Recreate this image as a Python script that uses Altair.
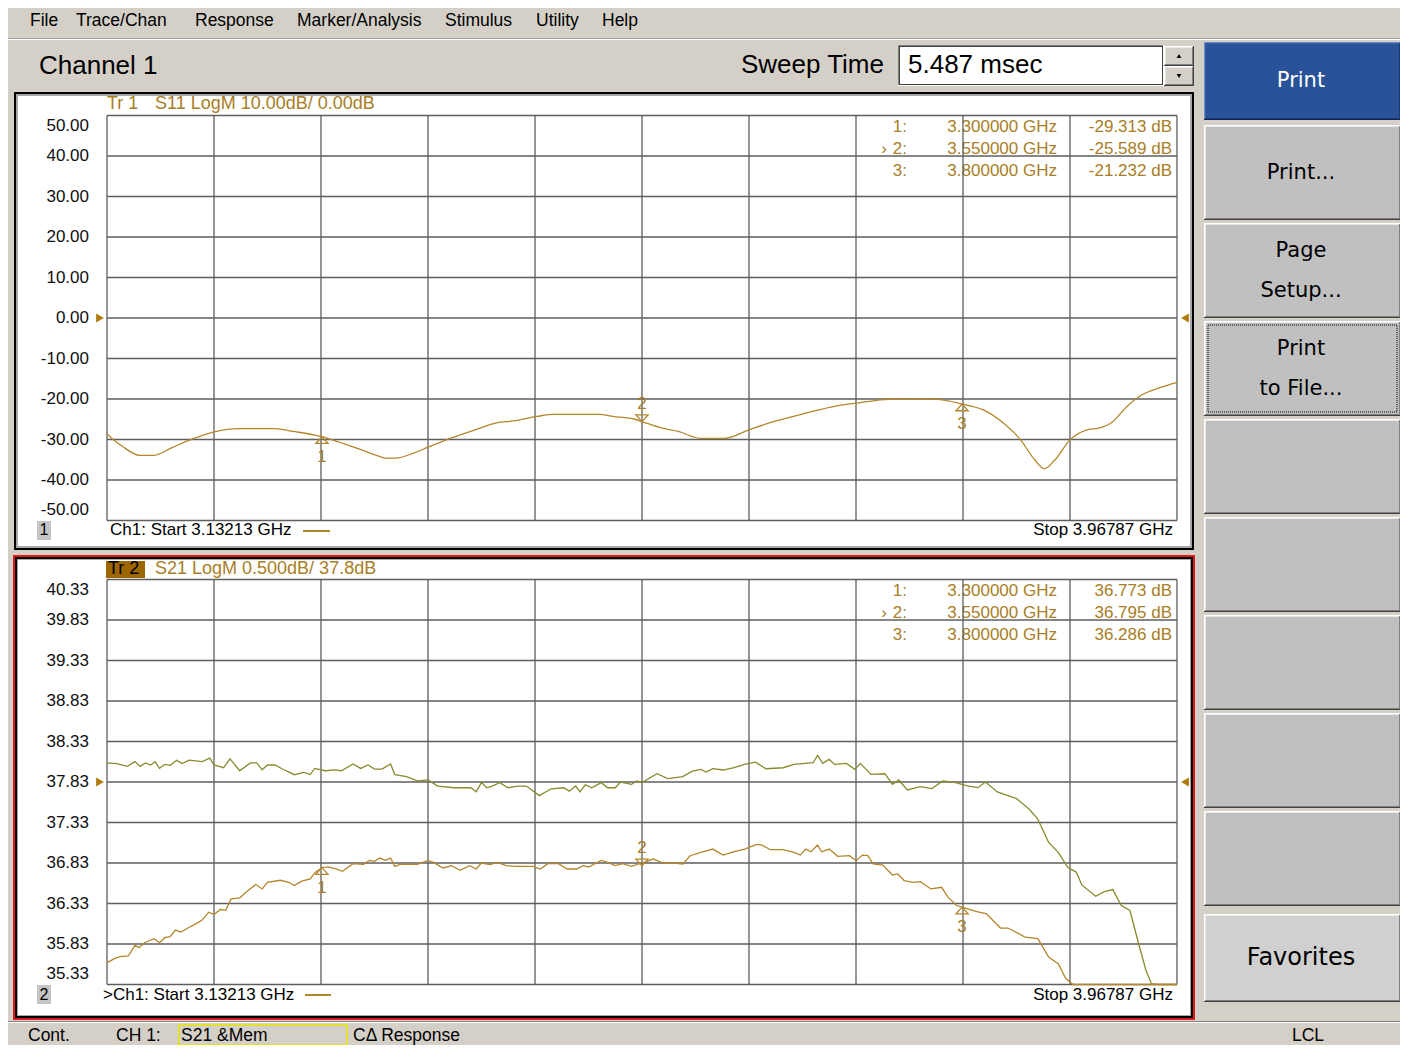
import altair as alt
import pandas as pd

# ---------------- chart values ----------------
f_start = 3.13213   # GHz
f_stop = 3.96787    # GHz

s11_freq = [3.1321, 3.1369, 3.1438, 3.1577, 3.1689, 3.1828, 3.1995, 3.2161, 3.2341, 3.2633,
            3.2776, 3.2943, 3.3000, 3.3110, 3.3277, 3.3444, 3.3494, 3.3578, 3.3720, 3.3829,
            3.3996, 3.4196, 3.4363, 3.4497, 3.4681, 3.4807, 3.5166, 3.5274, 3.5442, 3.5500,
            3.5659, 3.5784, 3.5952, 3.6144, 3.6336, 3.6528, 3.6779, 3.7021, 3.7205, 3.7364,
            3.7489, 3.7798, 3.8000, 3.8166, 3.8325, 3.8450, 3.8567, 3.8643, 3.8726, 3.8843,
            3.8977, 3.9069, 3.9177, 3.9286, 3.9403, 3.9528, 3.9679]
s11_db = [-28.6, -30.0, -31.6, -33.9, -33.9, -32.0, -29.8, -28.1, -27.3, -27.3,
          -28.0, -28.9, -29.313, -30.4, -32.2, -34.1, -34.6, -34.6, -33.3, -31.9,
          -29.8, -27.6, -25.9, -25.4, -24.3, -23.8, -23.8, -24.3, -25.0, -25.589,
          -27.2, -28.0, -29.7, -29.7, -27.6, -25.6, -23.5, -21.7, -20.9, -20.2,
          -20.0, -20.1, -21.232, -22.7, -26.0, -29.8, -35.0, -37.2, -35.0, -30.1,
          -27.6, -27.2, -25.6, -21.9, -19.0, -17.4, -15.9]

s21_freq = [3.1321, 3.1380, 3.1422, 3.1488, 3.1539, 3.1572, 3.1614, 3.1647, 3.1689, 3.1731,
            3.1773, 3.1814, 3.1856, 3.1898, 3.1957, 3.2007, 3.2065, 3.2115, 3.2157, 3.2207,
            3.2249, 3.2291, 3.2358, 3.2416, 3.2483, 3.2533, 3.2575, 3.2675, 3.2742, 3.2784,
            3.2842, 3.2909, 3.2943, 3.3000, 3.3051, 3.3110, 3.3160, 3.3244, 3.3327, 3.3369,
            3.3411, 3.3452, 3.3494, 3.3536, 3.3569, 3.3611, 3.3745, 3.3829, 3.3871, 3.3946,
            3.4013, 3.4079, 3.4155, 3.4205, 3.4246, 3.4313, 3.4372, 3.4439, 3.4522, 3.4648,
            3.4706, 3.4765, 3.4848, 3.4915, 3.4990, 3.5040, 3.5082, 3.5182, 3.5232, 3.5291,
            3.5350, 3.5417, 3.5500, 3.5588, 3.5667, 3.5751, 3.5818, 3.5876, 3.5960, 3.6052,
            3.6135, 3.6219, 3.6302, 3.6394, 3.6436, 3.6503, 3.6603, 3.6687, 3.6737, 3.6779,
            3.6820, 3.6871, 3.6904, 3.6962, 3.7029, 3.7121, 3.7172, 3.7222, 3.7264, 3.7305,
            3.7381, 3.7456, 3.7497, 3.7548, 3.7615, 3.7673, 3.7757, 3.7840, 3.7890, 3.7957,
            3.8000, 3.8107, 3.8191, 3.8300, 3.8358, 3.8492, 3.8592, 3.8676, 3.8751, 3.8810,
            3.8868, 3.9200, 3.9679]
s21_db = [35.600, 35.650, 35.674, 35.682, 35.814, 35.785, 35.846, 35.867, 35.896, 35.846,
          35.908, 35.920, 36.002, 35.978, 36.031, 36.072, 36.125, 36.223, 36.195, 36.256,
          36.248, 36.387, 36.400, 36.482, 36.564, 36.510, 36.592, 36.617, 36.592, 36.551,
          36.605, 36.633, 36.707, 36.773, 36.781, 36.756, 36.728, 36.822, 36.814, 36.863,
          36.850, 36.891, 36.863, 36.891, 36.789, 36.814, 36.814, 36.863, 36.838, 36.769,
          36.797, 36.740, 36.797, 36.756, 36.830, 36.810, 36.838, 36.797, 36.789, 36.789,
          36.756, 36.822, 36.822, 36.756, 36.756, 36.797, 36.781, 36.863, 36.838, 36.797,
          36.822, 36.789, 36.830, 36.879, 36.830, 36.830, 36.818, 36.920, 36.961, 37.002,
          36.928, 36.969, 37.002, 37.060, 37.051, 36.994, 36.994, 36.961, 36.928, 37.002,
          36.969, 37.051, 36.969, 37.002, 36.912, 36.920, 36.859, 36.928, 36.920, 36.818,
          36.805, 36.682, 36.695, 36.613, 36.592, 36.600, 36.510, 36.530, 36.408, 36.305,
          36.286, 36.232, 36.203, 36.027, 36.027, 35.916, 35.896, 35.670, 35.588, 35.404,
          35.250, 34.900, 34.800]

mem_freq = [3.1321, 3.1397, 3.1480, 3.1539, 3.1580, 3.1622, 3.1664, 3.1697, 3.1731, 3.1773,
            3.1814, 3.1865, 3.1906, 3.1965, 3.2065, 3.2124, 3.2157, 3.2232, 3.2282, 3.2358,
            3.2441, 3.2491, 3.2533, 3.2575, 3.2633, 3.2692, 3.2784, 3.2859, 3.2909, 3.2943,
            3.3026, 3.3093, 3.3152, 3.3244, 3.3302, 3.3360, 3.3411, 3.3469, 3.3536, 3.3569,
            3.3661, 3.3745, 3.3829, 3.3904, 3.4029, 3.4163, 3.4205, 3.4246, 3.4288, 3.4330,
            3.4388, 3.4455, 3.4531, 3.4597, 3.4698, 3.4790, 3.4890, 3.4932, 3.4982, 3.5015,
            3.5057, 3.5107, 3.5182, 3.5232, 3.5291, 3.5333, 3.5417, 3.5459, 3.5500, 3.5617,
            3.5701, 3.5818, 3.5893, 3.5960, 3.6001, 3.6052, 3.6135, 3.6219, 3.6302, 3.6386,
            3.6469, 3.6603, 3.6687, 3.6770, 3.6837, 3.6871, 3.6912, 3.6962, 3.7004, 3.7096,
            3.7163, 3.7205, 3.7289, 3.7397, 3.7456, 3.7506, 3.7573, 3.7673, 3.7765, 3.7849,
            3.7949, 3.8041, 3.8124, 3.8183, 3.8275, 3.8425, 3.8525, 3.8592, 3.8676, 3.8751,
            3.8826, 3.8893, 3.8935, 3.9044, 3.9111, 3.9177, 3.9244, 3.9311, 3.9386, 3.9436,
            3.9478, 3.9520, 3.9679]
mem_db = [38.065, 38.057, 38.023, 38.082, 38.023, 38.065, 38.040, 38.082, 37.998, 38.048,
          38.036, 38.099, 38.057, 38.099, 38.082, 38.124, 38.040, 38.006, 38.116, 37.969,
          38.065, 38.065, 37.980, 38.040, 38.040, 37.990, 37.920, 37.948, 37.922, 37.998,
          37.969, 37.980, 37.969, 38.053, 37.998, 38.040, 37.990, 37.990, 38.053, 37.922,
          37.897, 37.843, 37.855, 37.780, 37.759, 37.759, 37.708, 37.822, 37.759, 37.780,
          37.822, 37.759, 37.780, 37.780, 37.662, 37.746, 37.759, 37.717, 37.780, 37.708,
          37.796, 37.759, 37.822, 37.759, 37.759, 37.830, 37.800, 37.843, 37.822, 37.932,
          37.871, 37.896, 37.965, 37.986, 37.953, 37.994, 37.978, 38.006, 38.047, 38.076,
          37.994, 38.006, 38.047, 38.060, 38.068, 38.158, 38.060, 38.109, 38.047, 38.060,
          37.986, 38.060, 37.924, 37.932, 37.801, 37.855, 37.732, 37.773, 37.748, 37.842,
          37.822, 37.781, 37.760, 37.830, 37.707, 37.625, 37.494, 37.371, 37.084, 36.961,
          36.777, 36.715, 36.559, 36.420, 36.477, 36.502, 36.305, 36.244, 35.793, 35.506,
          35.342, 35.100, 34.900]

assert len(s11_freq) == len(s11_db)
assert len(s21_freq) == len(s21_db)
assert len(mem_freq) == len(mem_db)

marker_ids = ["1", "2", "3"]
marker_freq = [3.30, 3.55, 3.80]
s11_marker_db = [-29.313, -25.589, -21.232]
s21_marker_db = [36.773, 36.795, 36.286]
marker_freq_text = ["3.300000 GHz", "3.550000 GHz", "3.800000 GHz"]
s11_marker_text = ["-29.313 dB", "-25.589 dB", "-21.232 dB"]
s21_marker_text = ["36.773 dB", "36.795 dB", "36.286 dB"]
active_marker = "2"

s11_ticks = [50, 40, 30, 20, 10, 0, -10, -20, -30, -40, -50]
s11_tick_labels = ["50.00", "40.00", "30.00", "20.00", "10.00", "0.00",
                   "-10.00", "-20.00", "-30.00", "-40.00", "-50.00"]
s21_ticks = [40.33, 39.83, 39.33, 38.83, 38.33, 37.83, 37.33, 36.83, 36.33, 35.83, 35.33]
s21_tick_labels = ["40.33", "39.83", "39.33", "38.83", "38.33", "37.83",
                   "37.33", "36.83", "36.33", "35.83", "35.33"]
s11_ref = 0.0
s21_ref = 37.83
n_div = 10

menu_items = ["File", "Trace/Chan", "Response", "Marker/Analysis", "Stimulus", "Utility", "Help"]
softkeys = ["Print", "Print...", "Page\nSetup...", "Print\nto File...", "", "", "", "", "", "Favorites"]
status_items = ["Cont.", "CH 1:", "S21 &Mem", "C\u0394 Response", "LCL"]
tr1_title = ["Tr 1", "S11 LogM 10.00dB/ 0.00dB"]
tr2_title = ["Tr 2", "S21 LogM 0.500dB/  37.8dB"]
start_text = ["Ch1: Start  3.13213 GHz", ">Ch1: Start  3.13213 GHz"]
stop_text = "Stop  3.96787 GHz"

# ---------------- layout / style ----------------
OFF = 8                      # page margin (reference pixel -> chart pixel)
W, H = 1392, 1037
FONT = "Liberation Sans"
BFONT = "DejaVu Sans"
BG = "#D4D0C8"
GRID = "#5E5E5E"
TRACE = "#B4862C"
MEMC = "#8A8A2E"
GOLD = "#A87E26"


def px(v):
    return v - OFF


freq_grid = [f_start + i * (f_stop - f_start) / n_div for i in range(n_div + 1)]

xs = alt.Scale(domain=[f_start, f_stop], range=[px(107), px(1177)], nice=False, zero=False)
y1s = alt.Scale(domain=[-50, 50], range=[px(520.5), px(115.5)], nice=False, zero=False)
y2s = alt.Scale(domain=[35.33, 40.33], range=[px(984.5), px(579.5)], nice=False, zero=False, clamp=True)

# ---------------- chrome rectangles ----------------
rects = []


def R(x0, y0, x1, y1, fill):
    rects.append(dict(x=px(x0), x2=px(x1), y=px(y0), y2=px(y1), fill=fill))


def bevel(x0, y0, x1, y1, face, hi="#FFFFFF", lo="#404040", mid="#808080", light="#E8E8E8"):
    R(x0, y0, x1, y1, lo)
    R(x0, y0, x1 - 1, y1 - 1, hi)
    R(x0 + 1, y0 + 1, x1 - 1, y1 - 1, mid)
    R(x0 + 1, y0 + 1, x1 - 2, y1 - 2, light)
    R(x0 + 2, y0 + 2, x1 - 2, y1 - 2, face)


# menu separator
R(8, 38, 1400, 39, "#A0A0A0")
R(8, 39, 1400, 40, "#FFFFFF")
# sweep time edit box + spinner
R(898, 45, 1164, 86, "#FFFFFF")
R(898, 45, 1163, 85, "#808080")
R(899, 46, 1163, 85, "#404040")
R(900, 47, 1162, 84, "#FFFFFF")
bevel(1164, 46, 1194, 66, BG)
bevel(1164, 66, 1194, 86, BG)
# top panel
R(14, 92, 1194, 550, "#000000")
R(16, 94, 1192, 548, "#A8A8A8")
R(18, 96, 1190, 546, "#FFFFFF")
# bottom panel
R(13, 555, 1195, 1020, "#E01818")
R(15, 557, 1193, 1018, "#000000")
R(17, 559, 1191, 1016, "#A8A8A8")
R(18, 560, 1190, 1015, "#FFFFFF")
# channel number boxes
R(37, 521, 51, 540, "#C4C4C4")
R(37, 985, 51, 1004, "#C4C4C4")
# Tr 2 highlight box
R(106, 561, 145, 578, "#9C6600")
# status bar separator
R(8, 1021, 1400, 1022, "#808080")
R(8, 1022, 1400, 1023, "#FFFFFF")
# softkey buttons
softkey_y = [(42, 120), (125, 220), (223, 318), (321, 416), (419, 514),
             (517, 612), (615, 710), (713, 808), (811, 906), (914, 1002)]
for i, (y0, y1) in enumerate(softkey_y):
    if i == 0:
        bevel(1204, y0, 1401, y1, "#2A5298", hi="#6A8AC8", light="#3A62A8", mid="#1A3A78", lo="#102050")
    else:
        bevel(1204, y0, 1401, y1, "#C0C0C0" if i < 9 else "#D0D0D0")

rect_df = pd.DataFrame(rects)
chrome = alt.Chart(rect_df).mark_rect().encode(
    x=alt.X("x:Q", scale=None, axis=None), x2="x2:Q",
    y=alt.Y("y:Q", scale=None, axis=None), y2="y2:Q",
    fill=alt.Fill("fill:N", scale=None),
)

outline_df = pd.DataFrame([
    dict(x=px(179), x2=px(347), y=px(1025), y2=px(1045), col="#E6E600"),
])
outline = alt.Chart(outline_df).mark_rect(fillOpacity=0, strokeWidth=1.5).encode(
    x=alt.X("x:Q", scale=None, axis=None), x2="x2:Q",
    y=alt.Y("y:Q", scale=None, axis=None), y2="y2:Q",
    stroke=alt.Stroke("col:N", scale=None),
)
focus = alt.Chart(pd.DataFrame([dict(x=px(1208), x2=px(1397), y=px(325), y2=px(412))])).mark_rect(
    fillOpacity=0, stroke="#000000", strokeWidth=1, strokeDash=[1, 1]).encode(
    x=alt.X("x:Q", scale=None, axis=None), x2="x2:Q",
    y=alt.Y("y:Q", scale=None, axis=None), y2="y2:Q",
)

spin = alt.Chart(pd.DataFrame([dict(x=px(1179), y=px(56), s="triangle-up"),
                               dict(x=px(1179), y=px(76), s="triangle-down")])).mark_point(
    filled=True, color="#000000", size=22, opacity=1).encode(
    x=alt.X("x:Q", scale=None, axis=None), y=alt.Y("y:Q", scale=None, axis=None),
    shape=alt.Shape("s:N", scale=None),
)

# ---------------- chrome texts ----------------
left_rows, right_rows, center_rows = [], [], []


def T(rows, x, y, text, size, color="#000000"):
    rows.append(dict(x=px(x), y=px(y), text=text, size=size, color=color))


menu_x = [30, 76, 195, 297, 445, 536, 602]
for m, x in zip(menu_items, menu_x):
    T(left_rows, x, 21, m, 17.5)
T(left_rows, 39, 66, "Channel 1", 26)
T(right_rows, 884, 65, "Sweep Time", 26)
T(left_rows, 908, 65, "5.487 msec", 26)

# trace titles
T(left_rows, 107, 104, tr1_title[0], 18, GOLD)
T(left_rows, 155, 104, tr1_title[1], 18, GOLD)
T(left_rows, 108, 569, tr2_title[0], 18, "#000000")
T(left_rows, 155, 569, tr2_title[1], 18, GOLD)
# channel boxes and start / stop
T(center_rows, 44, 530, "1", 16)
T(center_rows, 44, 995, "2", 16)
T(left_rows, 110, 530, start_text[0], 17)
T(left_rows, 103, 995, start_text[1], 17)
T(right_rows, 1173, 530, stop_text, 17)
T(right_rows, 1173, 995, stop_text, 17)
# marker tables
for row, mid in enumerate(marker_ids):
    for base, vals in ((127, s11_marker_text), (591, s21_marker_text)):
        yy = base + 22 * row
        T(right_rows, 907, yy, mid + ":", 17, GOLD)
        T(right_rows, 1057, yy, marker_freq_text[row], 17, GOLD)
        T(right_rows, 1172, yy, vals[row], 17, GOLD)
        if mid == active_marker:
            T(center_rows, 884, yy, "\u203a", 17, GOLD)
# status bar (kept above the bottom edge of the canvas)
status_x = [28, 116, 181, 353, 1292]
for s, x in zip(status_items, status_x):
    T(left_rows, x, 1035.5, s, 17.5)


def text_layer(rows, align, font):
    df = pd.DataFrame(rows)
    return alt.Chart(df).mark_text(align=align, baseline="middle", font=font, lineBreak="\n",
                                   lineHeight=40).encode(
        x=alt.X("x:Q", scale=None, axis=None), y=alt.Y("y:Q", scale=None, axis=None),
        text="text:N", size=alt.Size("size:Q", scale=None), color=alt.Color("color:N", scale=None),
    )


btn_rows = []
for i, (lab, (y0, y1)) in enumerate(zip(softkeys, softkey_y)):
    if lab:
        yc = (y0 + y1) / 2 - (20 if "\n" in lab else 0)
        T(btn_rows, 1301, yc, lab, 24 if lab == "Favorites" else 21,
          "#FFFFFF" if i == 0 else "#000000")

# ---------------- plot layers ----------------


def panel(ys, ticks, labels, ref, tr_list, markers_db, y_top, y_bot):
    out = []
    out.append(alt.Chart(pd.DataFrame({"v": ticks})).mark_rule(color=GRID, strokeWidth=1.3).encode(
        y=alt.Y("v:Q", scale=ys, axis=None), x=alt.value(px(107)), x2=alt.value(px(1177))))
    out.append(alt.Chart(pd.DataFrame({"f": freq_grid})).mark_rule(color=GRID, strokeWidth=1.3).encode(
        x=alt.X("f:Q", scale=xs, axis=None), y=alt.value(px(y_top)), y2=alt.value(px(y_bot))))
    # tick labels: first and last drawn inside the grid edges
    lab_df = pd.DataFrame({"v": ticks, "t": labels})
    for sub, dy in ((lab_df.iloc[:1], 10.5), (lab_df.iloc[1:-1], 0), (lab_df.iloc[-1:], -10.5)):
        out.append(alt.Chart(sub).mark_text(align="right", baseline="middle", font=FONT, fontSize=17,
                                            color="#101010", dy=dy).encode(
            y=alt.Y("v:Q", scale=ys, axis=None), x=alt.value(px(89)), text="t:N"))
    # reference level arrows
    out.append(alt.Chart(pd.DataFrame({"v": [ref]})).mark_point(
        shape="triangle-right", filled=True, size=80, color="#B07A10", opacity=1).encode(
        y=alt.Y("v:Q", scale=ys, axis=None), x=alt.value(px(100))))
    out.append(alt.Chart(pd.DataFrame({"v": [ref]})).mark_point(
        shape="triangle-left", filled=True, size=80, color="#B07A10", opacity=1).encode(
        y=alt.Y("v:Q", scale=ys, axis=None), x=alt.value(px(1185))))
    # traces
    for fr, db, col, interp in tr_list:
        out.append(alt.Chart(pd.DataFrame({"f": fr, "db": db})).mark_line(
            color=col, strokeWidth=1.3, interpolate=interp).encode(
            x=alt.X("f:Q", scale=xs, axis=None), y=alt.Y("db:Q", scale=ys, axis=None)))
    # markers
    mk = pd.DataFrame({"f": marker_freq, "db": markers_db, "id": marker_ids})
    inactive = mk[mk["id"] != active_marker]
    active = mk[mk["id"] == active_marker]
    enc = dict(x=alt.X("f:Q", scale=xs, axis=None), y=alt.Y("db:Q", scale=ys, axis=None))
    out.append(alt.Chart(inactive).mark_point(shape="M0,0L-1,1.1L1,1.1Z", size=150, filled=False,
                                              color=TRACE, strokeWidth=1.3, opacity=1).encode(**enc))
    out.append(alt.Chart(inactive).mark_text(font=FONT, fontSize=17, color=GOLD, dy=20).encode(
        text="id:N", **enc))
    out.append(alt.Chart(active).mark_point(shape="M0,0L-1,-1.1L1,-1.1Z", size=150, filled=False,
                                            color=TRACE, strokeWidth=1.3, opacity=1).encode(**enc))
    out.append(alt.Chart(active).mark_text(font=FONT, fontSize=17, color=GOLD, dy=-18).encode(
        text="id:N", **enc))
    return out


top_layers = panel(y1s, s11_ticks, s11_tick_labels, s11_ref,
                   [(s11_freq, s11_db, TRACE, "monotone")], s11_marker_db, 115.5, 520.5)
bot_layers = panel(y2s, s21_ticks, s21_tick_labels, s21_ref,
                   [(mem_freq, mem_db, MEMC, "linear"), (s21_freq, s21_db, TRACE, "linear")],
                   s21_marker_db, 579.5, 984.5)

# legend dashes next to the start frequency
dash = alt.Chart(pd.DataFrame({"a": [0]})).mark_rule(color=TRACE, strokeWidth=2).encode(
    x=alt.value(px(303)), x2=alt.value(px(330)), y=alt.value(px(531)))
dash2 = alt.Chart(pd.DataFrame({"a": [0]})).mark_rule(color=TRACE, strokeWidth=2).encode(
    x=alt.value(px(305)), x2=alt.value(px(331)), y=alt.value(px(995)))

layers = ([chrome, outline, focus, spin,
           text_layer(left_rows, "left", FONT), text_layer(right_rows, "right", FONT),
           text_layer(center_rows, "center", FONT), text_layer(btn_rows, "center", BFONT),
           dash, dash2] + top_layers + bot_layers)

chart = alt.layer(*layers).resolve_scale(
    x="independent", y="independent"
).properties(
    width=W, height=H, background=BG, padding=0,
    autosize=alt.AutoSizeParams(type="none"),
).configure_view(stroke=None)

chart.save("out.html", embed_options={"renderer": "svg", "actions": False})
